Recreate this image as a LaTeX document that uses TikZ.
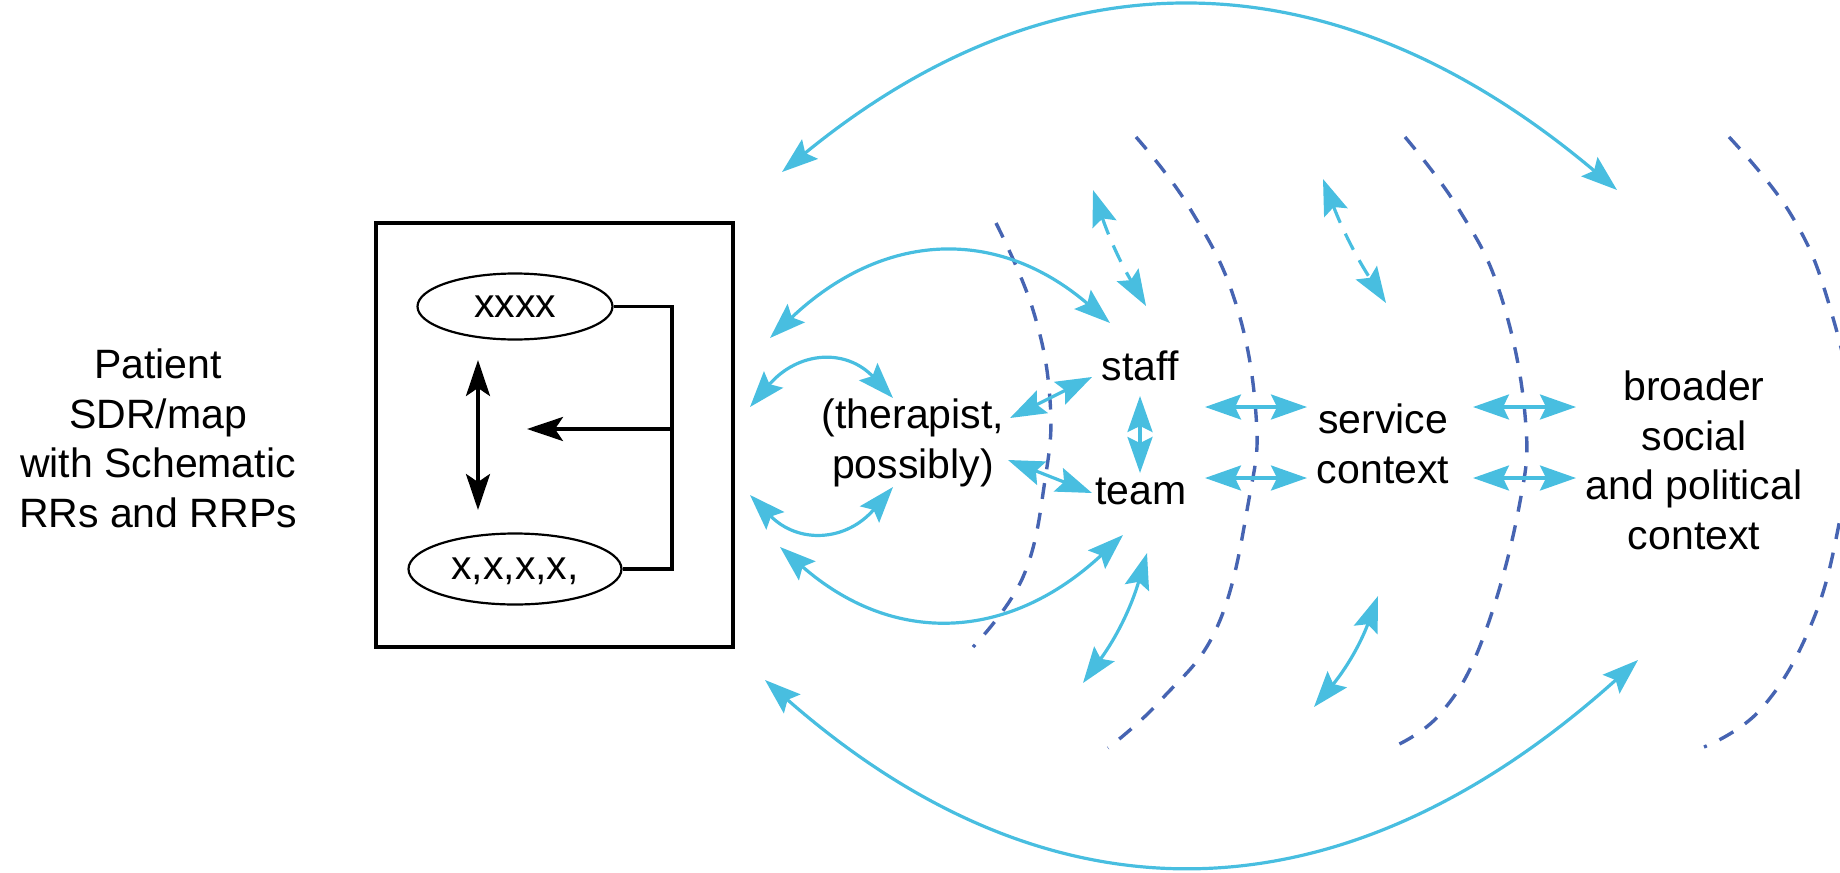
\documentclass[tikz,border=0pt]{standalone}
\usepackage{fontspec}
\setmainfont{Liberation Sans}
\usetikzlibrary{arrows.meta,shapes.geometric}
\definecolor{lblue}{RGB}{72,190,224}
\definecolor{dblue}{RGB}{70,100,178}
\begin{document}
\begin{tikzpicture}[x=0.5pt,y=-0.5pt,
  txt/.style={font=\fontsize{20.5}{24.75}\selectfont, align=center, inner sep=0pt},
  lb/.style={draw=lblue, line width=1.6pt, {Stealth[length=18pt,width=12.5pt,inset=3pt]}-{Stealth[length=18pt,width=12.5pt,inset=3pt]}},
  lbd/.style={lb, dash pattern=on 9pt off 6pt},
  zone/.style={draw=dblue, line width=1.7pt, dash pattern=on 8pt off 7pt},
  blk/.style={draw=black, line width=1.8pt},
  oval/.style={draw, ellipse, line width=1.1pt, inner sep=0pt, txt, text height=10.6pt, text depth=0pt}
]
\useasboundingbox (0,0) rectangle (1840,872);
\clip (0,0) rectangle (1840,872);

% ---- left text (base anchor = last line)
\node[txt, anchor=base] (patient) at (158,527) {Patient\\SDR/map\\with Schematic\\RRs and RRPs};

% ---- box with map
\node[draw, line width=1.6pt, minimum width=178.5pt, minimum height=212pt, inner sep=0pt] (box) at (554.5,435) {};
\node[oval, minimum width=97.5pt, minimum height=33pt] (e1) at (515,306.5) {xxxx};
\node[oval, minimum width=106.5pt, minimum height=35.5pt] (e2) at (515,569) {x,x,x,x,};
\coordinate (brk) at (672,429);
\coordinate (harr) at (527,429);
\coordinate (va1) at (478,360);
\coordinate (va2) at (478,510);
\draw[blk, line join=miter] (e1.east) -| (brk) |- (e2.east);
\draw[blk, -{Stealth[length=18pt,width=12pt,inset=4pt]}] (brk) -- (harr);
\draw[blk, {Stealth[length=18pt,width=12pt,inset=4pt]}-{Stealth[length=18pt,width=12pt,inset=4pt]}] (va1) -- (va2);

% ---- labels
\node[txt, anchor=base] (ther) at (913,478) {(therapist,\\possibly)};
\node[txt, anchor=base] (staff) at (1140,380) {staff};
\node[txt, anchor=base] (team) at (1141,504) {team};
\node[txt, anchor=base] (serv) at (1383,483) {service\\context};
\node[txt, anchor=base] (broad) at (1694,549) {broader\\social\\and political\\context};

% ---- dashed zone boundaries
\draw[zone] plot[smooth, tension=0.7] coordinates {(996,223) (1033,310) (1050,400) (1045,480) (1023,577) (973,647)};
\draw[zone] plot[smooth, tension=0.7] coordinates {(1136,137) (1189,207) (1235,301) (1256,415) (1249,499) (1218,625) (1161,700) (1108,748)};
\draw[zone] plot[smooth, tension=0.7] coordinates {(1405,137) (1458,208) (1500,293) (1525,415) (1519,507) (1483,638) (1441,713) (1393,747)};
\draw[zone] plot[smooth, tension=0.7] coordinates {(1729,137) (1790,213) (1828,301) (1852,420) (1839,524) (1811,625) (1761,709) (1704,747)};

% ---- connector end points
\coordinate (tA1) at (782,172);  \coordinate (tA2) at (1617,190);
\coordinate (bA1) at (765,680);  \coordinate (bA2) at (1638,660);
\coordinate (c1) at (770,338);   \coordinate (c2) at (1110,323);
\coordinate (d1) at (750,407);   \coordinate (d2) at (893,398);
\coordinate (f1) at (750,495);   \coordinate (f2) at (893,487);
\coordinate (g1) at (780,547);   \coordinate (g2) at (1123,535);
\coordinate (h1) at (1010,418);  \coordinate (h2) at (1092,377);
\coordinate (i1) at (1008,460);  \coordinate (i2) at (1092,493);
\coordinate (j1) at (1140,396);  \coordinate (j2) at (1140,473);
\coordinate (k1) at (1147,553);  \coordinate (k2) at (1083,683);
\coordinate (m1) at (1093,190);  \coordinate (m2) at (1146,306);
\coordinate (n1) at (1323,179);  \coordinate (n2) at (1386,303);
\coordinate (p1) at (1205,407);  \coordinate (p2) at (1307,407);
\coordinate (p3) at (1205,478);  \coordinate (p4) at (1307,478);
\coordinate (q1) at (1473,407);  \coordinate (q2) at (1576,407);
\coordinate (q3) at (1473,478);  \coordinate (q4) at (1576,478);
\coordinate (r1) at (1378,596);  \coordinate (r2) at (1314,707);

% ---- light blue connectors
\draw[lb] (tA1) .. controls (1057,-53) and (1336,-47) .. (tA2);
\draw[lb] (bA1) .. controls (1052,932) and (1343,925) .. (bA2);
\draw[lb] (c1) .. controls (883,231) and (997,226) .. (c2);
\draw[lb] (d1) .. controls (798,351) and (846,348) .. (d2);
\draw[lb] (f1) .. controls (798,544) and (846,542) .. (f2);
\draw[lb] (g1) .. controls (893,646) and (1008,642) .. (g2);
\draw[lb] (h1) -- (h2);
\draw[lb] (i1) -- (i2);
\draw[lb] (j1) -- (j2);
\draw[lb] (k1) to[bend left=10] (k2);
\draw[lbd] (m1) to[bend right=6] (m2);
\draw[lbd] (n1) to[bend right=6] (n2);
\draw[lb] (p1) -- (p2);
\draw[lb] (p3) -- (p4);
\draw[lb] (q1) -- (q2);
\draw[lb] (q3) -- (q4);
\draw[lb] (r1) to[bend left=10] (r2);
\end{tikzpicture}
\end{document}
